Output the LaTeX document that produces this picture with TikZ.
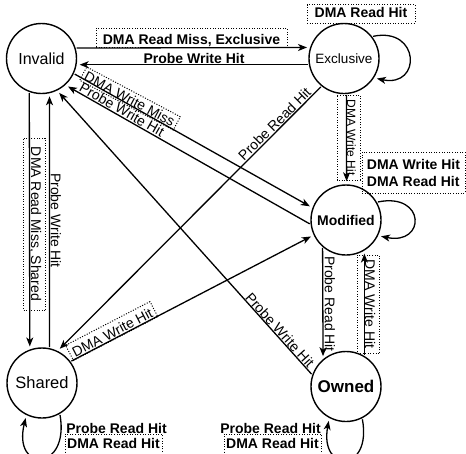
\documentclass[tikz,border=0pt]{standalone}
\usepackage{fontspec}
\setmainfont{Liberation Sans}
\usetikzlibrary{arrows.meta}
\begin{document}
\begin{tikzpicture}[x=1pt,y=1pt,
  state/.style={circle, draw, line width=1.4pt, minimum size=70pt, inner sep=0pt},
  edge/.style={line width=1.3pt, -{Stealth[length=9pt,width=7pt,inset=2.5pt]},
               shorten >=3pt, shorten <=1pt},
  lbl/.style={font=\fontsize{14}{17}\selectfont, inner sep=1pt},
  blbl/.style={font=\fontsize{14}{17}\selectfont\bfseries, inner sep=1pt},
  dbox/.style={draw, line width=1pt, dash pattern=on 1pt off 1.6pt},
]
\fill[white] (0,0) rectangle (466,-453);
\useasboundingbox (0,0) rectangle (466,-453);

% states
\node[state, font=\fontsize{16}{18}\selectfont] (inv) at (41.5,-58.5) {Invalid};
\node[state, font=\fontsize{13.5}{16}\selectfont] (exc) at (344,-58.5) {Exclusive};
\node[state, font=\fontsize{14}{16}\selectfont\bfseries] (mod) at (346,-220) {Modified};
\node[state, font=\fontsize{16.5}{18}\selectfont] (shr) at (42,-383) {Shared};
\node[state, font=\fontsize{17}{19}\selectfont\bfseries] (own) at (346,-386.5) {Owned};

% transitions between states
\draw[edge] (inv.17.5) -- (exc.162.5);
\draw[edge] (exc.190.7) -- (inv.-10.7);
\draw[edge] (inv.-25) -- (mod.160.1);
\draw[edge] (mod.187.9) -- (inv.-48.1);
\draw[edge] (own.161.8) -- (inv.-64.2);
\draw[edge] (exc.231.7) -- (shr.64.7);
\draw[edge] (shr.37.5) -- (mod.205.3);
\draw[edge] (inv.250) -- (shr.110.9);
\draw[edge] (shr.78.5) -- (inv.-77.6);
\draw[edge] (exc.-86) -- (mod.89.2);
\draw[edge] (mod.229.5) -- (own.130.5);
\draw[edge] (own.59) -- (mod.-59);

% self loops
\draw[edge] (exc.38) .. controls +(48,10) and +(48,-10) .. (exc.-33);
\draw[edge] (mod.30.7) .. controls +(49,10) and +(48,-10) .. (mod.-26.6);
\draw[edge] (shr.-60.4) .. controls +(10,-58) and +(-14,-58) .. (shr.-116.5);
\draw[edge] (own.-63) .. controls +(10,-55) and +(-10,-55) .. (own.-118);

% transition labels
\node[blbl, dbox, minimum width=191pt, text height=15pt, text depth=1pt, inner ysep=1.5pt]
  (lrme) at (191.5,-37.5) {DMA Read Miss, Exclusive};
\node[blbl] (lpwh1) at (194,-58) {Probe Write Hit};
\node[lbl, dbox, rotate=-28, minimum width=106pt, text height=12pt, text depth=1pt, inner ysep=1pt]
  (lwm) at (130,-98.5) {DMA Write Miss};
\node[lbl, rotate=-29.6] (lpwh2) at (122,-109.5) {Probe Write Hit};
\node[lbl, rotate=-48] (lpwh3) at (280,-330) {Probe Write Hit};
\node[lbl, rotate=45] (lprh1) at (274.5,-124) {Probe Read Hit};
\node[lbl, dbox, rotate=27.4, minimum width=95pt, text height=14pt, text depth=1pt, inner ysep=1pt]
  (lwh1) at (111.7,-331) {DMA Write Hit};
\node[lbl, dbox, rotate=-90, minimum width=172pt, text height=13pt, text depth=7pt, inner ysep=1pt]
  (lrms) at (34,-224) {DMA Read Miss, Shared};
\node[lbl, rotate=-90] (lpwh4) at (56,-220.5) {Probe Write Hit};
\node[lbl, dbox, font=\fontsize{12}{14}\selectfont, rotate=-90, minimum width=85pt,
      text height=12pt, text depth=9pt, inner ysep=1pt]
  (lwh2) at (348.5,-137.5) {DMA Write Hit};
\node[lbl, rotate=-90] (lprh2) at (330,-304) {Probe Read Hit};
\node[lbl, dbox, rotate=-90, minimum width=98pt, text height=13pt, text depth=7pt, inner ysep=1pt]
  (lwh3) at (368,-304) {DMA Write Hit};

% self-loop labels
\node[blbl, dbox, minimum width=108pt, text height=11.3pt, text depth=5pt, inner ysep=1pt]
  (lrh1) at (361,-14) {DMA Read Hit};
\node[blbl, dbox, align=left, minimum width=103pt, minimum height=41pt]
  (lwrh) at (413.5,-172.5) {DMA Write Hit\\DMA Read Hit};
\node[blbl] (lprh3) at (116.5,-428.5) {Probe Read Hit};
\node[blbl, dbox, minimum width=97pt, text height=13pt, text depth=10pt, inner ysep=1pt]
  (lrh2) at (113.5,-446.5) {DMA Read Hit};
\node[blbl] (lprh4) at (270.5,-428.5) {Probe Read Hit};
\node[blbl, dbox, minimum width=97pt, text height=13pt, text depth=10pt, inner ysep=1pt]
  (lrh3) at (272.5,-446.5) {DMA Read Hit};
\end{tikzpicture}
\end{document}
